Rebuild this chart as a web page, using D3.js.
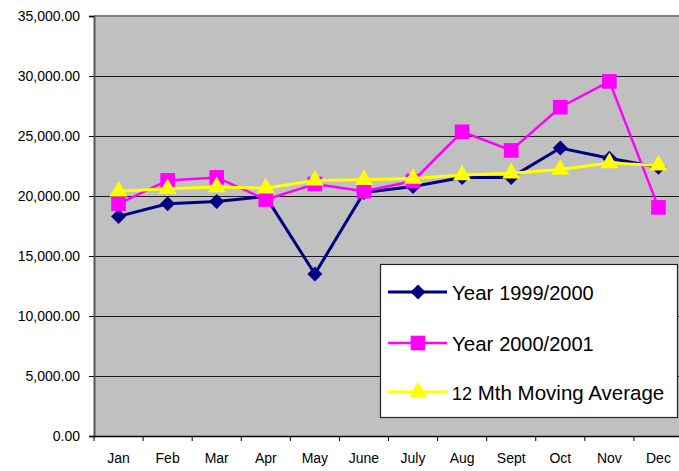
<!doctype html>
<meta charset="utf-8">
<style>
  body { margin: 0; background: #fff; }
  text { font-family: "Liberation Sans", Arial, sans-serif; fill: #000; }
</style>
<script src="https://d3js.org/d3.v7.min.js"></script>
<body>
<svg id="chart"></svg>
<script>
var months = ["Jan","Feb","Mar","Apr","May","June","July","Aug","Sept","Oct","Nov","Dec"];
var year9900 = [18300, 19350, 19550, 19950, 13500, 20300, 20800, 21550, 21550, 24000, 23150, 22400];
var year0001 = [19350, 21300, 21550, 19700, 21000, 20400, 21250, 25350, 23800, 27400, 29550, 19050];
var movingAvg = [20400, 20600, 20750, 20650, 21300, 21350, 21450, 21750, 21900, 22200, 22750, 22550];
var yTicks = [0, 5000, 10000, 15000, 20000, 25000, 30000, 35000];

var width = 679, height = 471;
var svg = d3.select("#chart").attr("width", width).attr("height", height);

var pLeft = 94, pRight = 683, pTop = 16, pBottom = 436;

var x = d3.scaleBand().domain(months).range([pLeft, pRight]);
var y = d3.scaleLinear().domain([0, 35000]).range([pBottom, pTop]);

// plot background
svg.append("rect")
  .attr("x", pLeft).attr("y", pTop)
  .attr("width", pRight - pLeft).attr("height", pBottom - pTop)
  .attr("fill", "#c0c0c0");

// gridlines
svg.append("g").selectAll("line")
  .data(yTicks.filter(function(d){ return d > 0 && d < 35000; }))
  .enter().append("line")
    .attr("x1", pLeft).attr("x2", pRight)
    .attr("y1", function(d){ return Math.round(y(d)) + 0.5; })
    .attr("y2", function(d){ return Math.round(y(d)) + 0.5; })
    .attr("stroke", "#1a1a1a").attr("stroke-width", 1);

// top border
svg.append("line")
  .attr("x1", pLeft).attr("x2", pRight).attr("y1", pTop).attr("y2", pTop)
  .attr("stroke", "#808080").attr("stroke-width", 2);

// y axis
var yAxis = d3.axisLeft(y).tickValues(yTicks).tickSize(5).tickPadding(9)
  .tickFormat(d3.format(",.2f"));
var gy = svg.append("g").attr("transform", "translate(" + pLeft + ",0)").call(yAxis);
gy.select(".domain").attr("stroke", "#555").attr("stroke-width", 2);
gy.selectAll(".tick line").attr("stroke", "#000");
gy.selectAll("text").style("font-size", "14px").attr("fill", "#000");

// x axis
var xAxis = d3.axisBottom(x).tickSize(0).tickPadding(17);
var gx = svg.append("g").attr("transform", "translate(0," + pBottom + ")").call(xAxis);
gx.select(".domain").attr("stroke", "#000").attr("stroke-width", 1.5);
gx.selectAll("text").style("font-size", "14px").attr("fill", "#000");
gx.selectAll(".bound").data(months.concat(["end"]))
  .enter().append("line")
    .attr("x1", function(d, i){ return pLeft + i * x.step(); })
    .attr("x2", function(d, i){ return pLeft + i * x.step(); })
    .attr("y1", 0).attr("y2", 5)
    .attr("stroke", "#000");

var cx = function(d, i){ return x(months[i]) + x.bandwidth() / 2; };
var line = d3.line().x(cx).y(function(d){ return y(d); });

var series = [
  { name: "Year ", num: "1999/2000", data: year9900, color: "#000080", width: 3, symbol: d3.symbolSquare, size: 112, rot: 45 },
  { name: "Year ", num: "2000/2001", data: year0001, color: "#ff00ff", width: 2.5, symbol: d3.symbolSquare, size: 215, rot: 0 },
  { name: " Mth Moving Average", num: "12", data: movingAvg, color: "#ffff00", width: 3, symbol: d3.symbolTriangle, size: 140, rot: 0 }
];

series.forEach(function(s){
  var g = svg.append("g");
  g.append("path").datum(s.data)
    .attr("d", line).attr("fill", "none")
    .attr("stroke", s.color).attr("stroke-width", s.width);
  g.selectAll("path.m").data(s.data).enter().append("path")
    .attr("class", "m")
    .attr("d", d3.symbol().type(s.symbol).size(s.size))
    .attr("transform", function(d, i){ return "translate(" + cx(d, i) + "," + y(d) + ") rotate(" + s.rot + ")"; })
    .attr("fill", s.color);
});

// legend
var lg = svg.append("g");
lg.append("rect")
  .attr("x", 380.5).attr("y", 264.5).attr("width", 297).attr("height", 153)
  .attr("fill", "#fff").attr("stroke", "#222").attr("stroke-width", 1.2);
var ly = [292, 343, 392];
series.forEach(function(s, i){
  lg.append("line")
    .attr("x1", 388).attr("x2", 447).attr("y1", ly[i]).attr("y2", ly[i])
    .attr("stroke", s.color).attr("stroke-width", s.width);
  lg.append("path")
    .attr("d", d3.symbol().type(s.symbol).size(s.size))
    .attr("transform", "translate(418," + ly[i] + ") rotate(" + s.rot + ")")
    .attr("fill", s.color);
  var t = lg.append("text").attr("x", 452).attr("y", ly[i] + 8);
  if (i < 2) {
    t.append("tspan").text(s.name).style("font-size", "20.5px");
    t.append("tspan").text(s.num).style("font-size", "20px");
  } else {
    t.append("tspan").text(s.num).style("font-size", "18px");
    t.append("tspan").text(s.name).style("font-size", "20.5px");
  }
});
</script>
</body>
